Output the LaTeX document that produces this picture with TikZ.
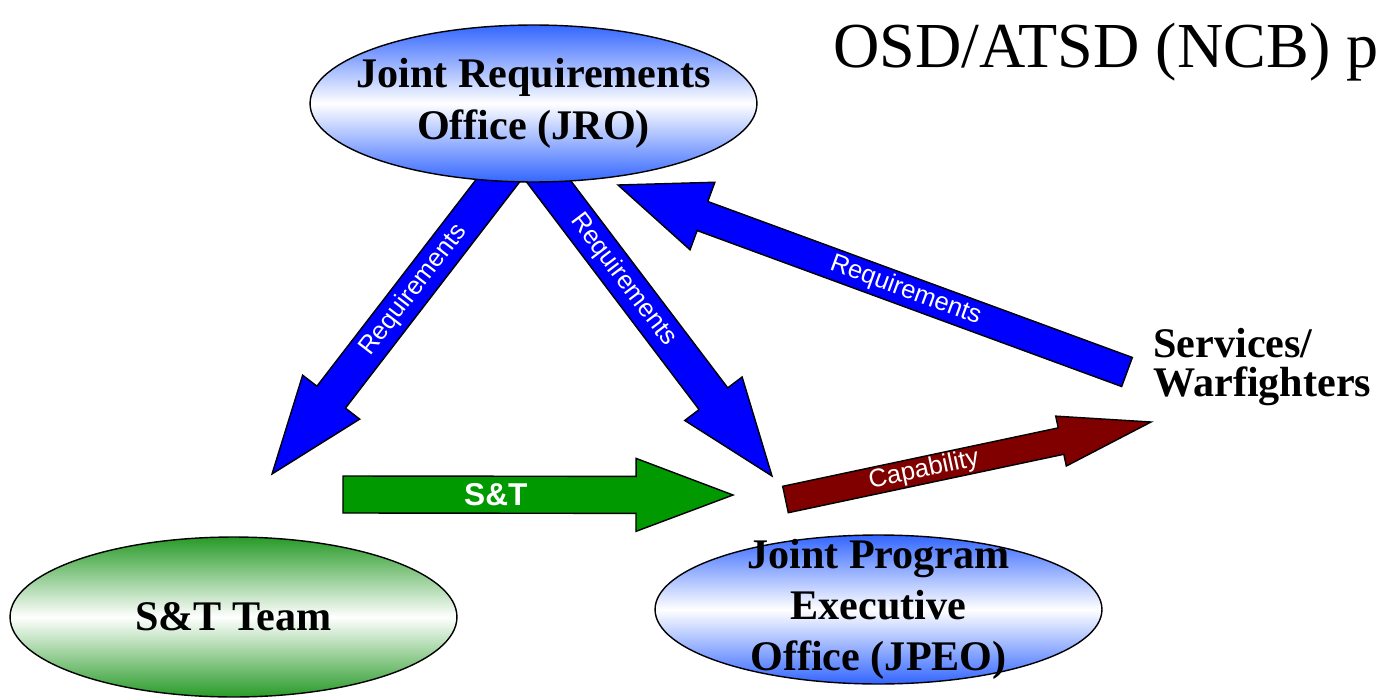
\documentclass[tikz,border=0pt]{standalone}
\usepackage{fontspec}
\setmainfont{Liberation Serif}
\setsansfont{Liberation Sans}
\usetikzlibrary{shapes.geometric,calc,positioning}
\definecolor{ovalblue}{RGB}{51,102,255}
\definecolor{ovalgreen}{RGB}{40,155,40}
\definecolor{reqblue}{RGB}{0,0,255}
\definecolor{stgreen}{RGB}{0,153,0}
\definecolor{capred}{RGB}{128,0,0}
\newcommand{\blockarrow}[6][]{%
  \coordinate (ba-h) at ($(#3)!#6!(#2)$);
  \draw[arrowbody,#1] ($(#2)!#4!90:(#3)$) -- ($(ba-h)!#4!90:(#3)$)
    -- ($(ba-h)!#5!90:(#3)$) -- (#3) -- ($(ba-h)!#5!-90:(#3)$)
    -- ($(ba-h)!#4!-90:(#3)$) -- ($(#2)!#4!-90:(#3)$) -- cycle;}
\tikzset{
  oval/.style={ellipse, draw, line width=0.8pt, minimum width=8.94cm, inner sep=0pt},
  blueoval/.style={oval, top color=ovalblue, bottom color=ovalblue, middle color=white},
  greenoval/.style={oval, top color=ovalgreen, bottom color=ovalgreen, middle color=white},
  ovaltext/.style={font=\bfseries\fontsize{24}{29.5}\selectfont, align=center, inner sep=0pt},
  arrowbody/.style={draw=black, line width=0.8pt, line join=miter},
  arrowtext/.style={font=\sffamily\fontsize{14.5}{17}\selectfont, text=white, sloped, inner sep=0pt},
}

\begin{document}
\begin{tikzpicture}[x=0.02cm, y=-0.02cm]
  \useasboundingbox (0,0) rectangle (1378,699);
  \coordinate (reqL-tail) at (510,165);
  \coordinate (reqL-tip) at (272,474);
  \coordinate (reqR-tail) at (537,166);
  \coordinate (reqR-tip) at (772,476);
  \coordinate (reqU-tail) at (1127,372);
  \coordinate (reqU-tip) at (618,185);
  \coordinate (st-tail) at (343,494.5);
  \coordinate (st-tip) at (733,495);
  \coordinate (cap-tail) at (785.5,499.5);
  \coordinate (cap-tip) at (1151,422);

  \blockarrow[fill=reqblue]{reqL-tail}{reqL-tip}{0.36cm}{0.72cm}{1.94cm}
  \blockarrow[fill=reqblue]{reqR-tail}{reqR-tip}{0.36cm}{0.72cm}{1.94cm}
  \blockarrow[fill=reqblue]{reqU-tail}{reqU-tip}{0.31cm}{0.72cm}{1.8cm}
  \blockarrow[fill=stgreen]{st-tail}{st-tip}{0.37cm}{0.73cm}{1.94cm}
  \blockarrow[fill=capred]{cap-tail}{cap-tip}{0.27cm}{0.51cm}{1.84cm}

  \path (reqL-tail) -- (reqL-tip) node[arrowtext, pos=0.405] (reqL-text) {Requirements};
  \path (reqR-tail) -- (reqR-tip) node[arrowtext, pos=0.367] (reqR-text) {Requirements};
  \path (reqU-tail) -- (reqU-tip) node[arrowtext, pos=0.435] (reqU-text) {Requirements};
  \path (st-tail) -- (st-tip) node[arrowtext, pos=0.392, font=\sffamily\bfseries\fontsize{18}{20}\selectfont] (st-text) {S\&T};
  \path (cap-tail) -- (cap-tip) node[arrowtext, pos=0.379] (cap-text) {Capability};

  \node[blueoval, minimum height=3.14cm] (jro) at (533.5,103.5) {};
  \node[greenoval, minimum height=3.2cm] (stteam) at (233.5,617) {};
  \node[blueoval, minimum height=2.98cm] (jpeo) at (878.5,609.5) {};
  \node[ovaltext] (jro-text) at (jro) {Joint Requirements\\Office (JRO)};
  \node[ovaltext] (stteam-text) at (stteam) {S\&T Team};
  \node[ovaltext, font=\bfseries\fontsize{24}{29}\selectfont] (jpeo-text) at (jpeo) {Joint Program\\Executive\\Office (JPEO)};
  \node[ovaltext, align=left, anchor=west, font=\bfseries\fontsize{24}{22.7}\selectfont] (svc) at (1153,367) {Services/\\Warfighters};
  \node[anchor=base west, inner sep=0pt, font=\fontsize{36.5}{44}\selectfont] (osd) at (833,68) {OSD/ATSD (NCB) p};
\end{tikzpicture}
\end{document}
